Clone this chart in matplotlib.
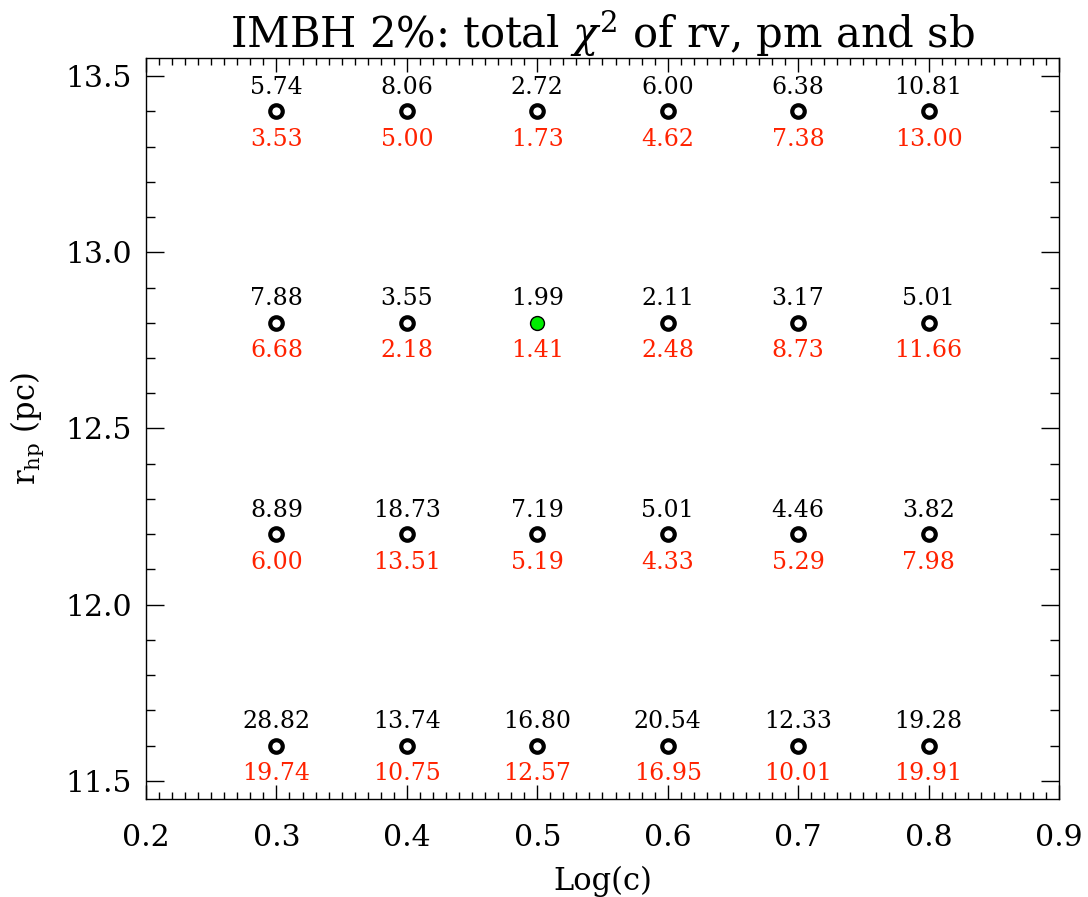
import matplotlib
matplotlib.use('Agg')
import matplotlib.pyplot as plt
from matplotlib.ticker import MultipleLocator

# grid of models: concentration (log c) vs half-light radius
logc = [0.3, 0.4, 0.5, 0.6, 0.7, 0.8]
rhp = [13.4, 12.8, 12.2, 11.6]

# chi^2 values, one row per r_hp
chi_top = [
    ['5.74', '8.06', '2.72', '6.00', '6.38', '10.81'],
    ['7.88', '3.55', '1.99', '2.11', '3.17', '5.01'],
    ['8.89', '18.73', '7.19', '5.01', '4.46', '3.82'],
    ['28.82', '13.74', '16.80', '20.54', '12.33', '19.28'],
]
chi_bot = [
    ['3.53', '5.00', '1.73', '4.62', '7.38', '13.00'],
    ['6.68', '2.18', '1.41', '2.48', '8.73', '11.66'],
    ['6.00', '13.51', '5.19', '4.33', '5.29', '7.98'],
    ['19.74', '10.75', '12.57', '16.95', '10.01', '19.91'],
]
best = (0.5, 12.8)

plt.rcParams['font.family'] = 'DejaVu Serif'
plt.rcParams['mathtext.fontset'] = 'dejavuserif'

fig = plt.figure(figsize=(10.88, 8.97), dpi=100)
ax = fig.add_axes([0.1342, 0.1093, 0.8391, 0.826])

for j, y in enumerate(rhp):
    for i, x in enumerate(logc):
        if (x, y) == best:
            ax.plot(x, y, 'o', ms=10, mfc='#00ee00', mec='black', mew=1.0)
        else:
            ax.plot(x, y, 'o', ms=9, mfc='white', mec='black', mew=3.0)
        ax.annotate(chi_top[j][i], (x, y), xytext=(0, 9), textcoords='offset points',
                    ha='center', va='bottom', fontsize=17, color='black')
        ax.annotate(chi_bot[j][i], (x, y), xytext=(0, -12), textcoords='offset points',
                    ha='center', va='top', fontsize=17, color='#ff2200')

ax.set_xlim(0.2, 0.9)
ax.set_ylim(11.449, 13.551)
ax.xaxis.set_major_locator(MultipleLocator(0.1))
ax.xaxis.set_minor_locator(MultipleLocator(0.01))
ax.yaxis.set_major_locator(MultipleLocator(0.5))
ax.yaxis.set_minor_locator(MultipleLocator(0.1))
ax.xaxis.set_major_formatter(plt.FormatStrFormatter('%.1f'))
ax.yaxis.set_major_formatter(plt.FormatStrFormatter('%.1f'))
ax.tick_params(which='both', direction='in', top=True, right=True, width=1.0, labelsize=21.5)
ax.tick_params(axis='x', which='major', length=10, pad=18)
ax.tick_params(axis='x', which='minor', length=5)
ax.tick_params(axis='y', which='major', length=13, pad=10)
ax.tick_params(axis='y', which='minor', length=6.5)
for s in ax.spines.values():
    s.set_linewidth(1.0)

ax.set_xlabel('Log(c)', fontsize=22, labelpad=10)
ax.set_ylabel(r'r$_{\rm hp}$ (pc)', fontsize=22, labelpad=14)
ax.set_title(r'IMBH 2%: total $\chi^2$ of rv, pm and sb', fontsize=30, pad=8)

fig.savefig('out.png', dpi=100)
